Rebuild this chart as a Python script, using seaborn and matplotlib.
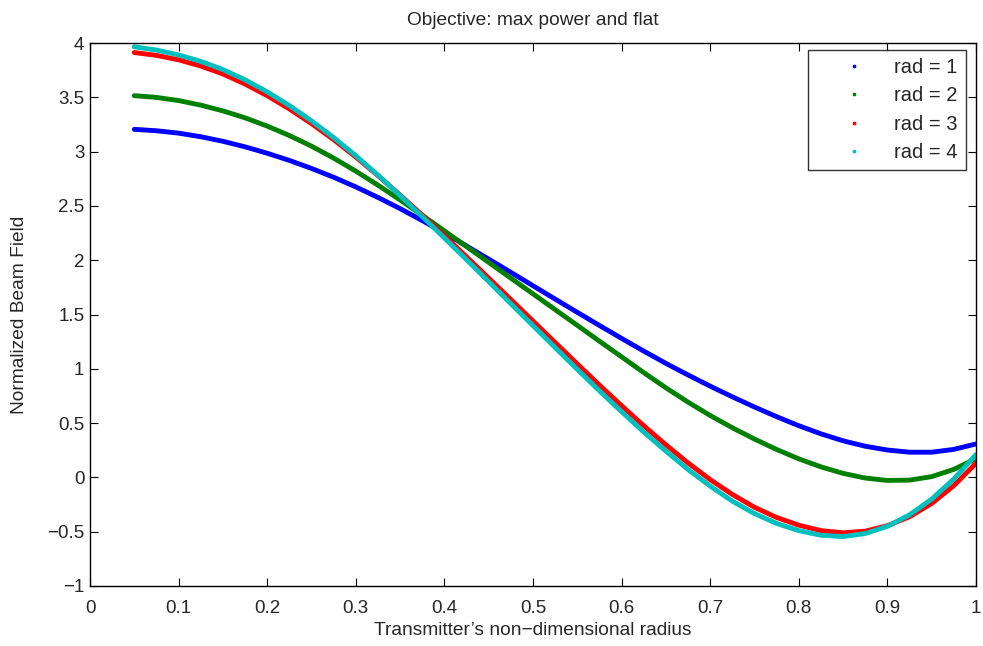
import matplotlib
matplotlib.use("Agg")
import matplotlib.pyplot as plt
import pandas as pd
import seaborn as sns

radius = [0.050, 0.075, 0.100, 0.125, 0.150, 0.175, 0.200, 0.225, 0.250, 0.275,
          0.300, 0.325, 0.350, 0.375, 0.400, 0.425, 0.450, 0.475, 0.500, 0.525,
          0.550, 0.575, 0.600, 0.625, 0.650, 0.675, 0.700, 0.725, 0.750, 0.775,
          0.800, 0.825, 0.850, 0.875, 0.900, 0.925, 0.950, 0.975, 1.000]
rad1 = [3.205, 3.192, 3.170, 3.137, 3.095, 3.044, 2.985, 2.919, 2.845, 2.764,
        2.675, 2.578, 2.475, 2.365, 2.250, 2.131, 2.010, 1.888, 1.765, 1.642,
        1.520, 1.399, 1.280, 1.163, 1.050, 0.943, 0.840, 0.742, 0.648, 0.559,
        0.476, 0.401, 0.337, 0.287, 0.252, 0.232, 0.232, 0.258, 0.308]
rad2 = [3.515, 3.499, 3.470, 3.428, 3.375, 3.311, 3.235, 3.148, 3.050, 2.940,
        2.820, 2.691, 2.555, 2.414, 2.270, 2.125, 1.980, 1.835, 1.690, 1.545,
        1.400, 1.254, 1.110, 0.965, 0.825, 0.693, 0.570, 0.457, 0.353, 0.257,
        0.171, 0.097, 0.037, -0.006, -0.028, -0.025, 0.007, 0.074, 0.173]
rad3 = [3.912, 3.886, 3.845, 3.788, 3.715, 3.622, 3.515, 3.393, 3.258, 3.110,
        2.950, 2.779, 2.600, 2.415, 2.225, 2.031, 1.835, 1.638, 1.440, 1.242,
        1.045, 0.850, 0.660, 0.476, 0.300, 0.133, -0.020, -0.157, -0.275, -0.369,
        -0.440, -0.490, -0.510, -0.495, -0.445, -0.362, -0.240, -0.076, 0.130]
rad4 = [3.965, 3.935, 3.890, 3.831, 3.755, 3.661, 3.550, 3.424, 3.283, 3.129,
        2.962, 2.783, 2.595, 2.402, 2.205, 2.005, 1.803, 1.600, 1.398, 1.195,
        0.995, 0.797, 0.605, 0.418, 0.242, 0.073, -0.080, -0.219, -0.333, -0.424,
        -0.490, -0.533, -0.545, -0.517, -0.450, -0.345, -0.200, -0.015, 0.210]
labels = ["rad = 1", "rad = 2", "rad = 3", "rad = 4"]
colors = ["#0000ff", "#008000", "#ff0000", "#00bfbf"]

xticks = [0, 0.1, 0.2, 0.3, 0.4, 0.5, 0.6, 0.7, 0.8, 0.9, 1.0]
xticklabels = ["0", "0.1", "0.2", "0.3", "0.4", "0.5", "0.6", "0.7", "0.8", "0.9", "1"]
yticks = [-1, -0.5, 0, 0.5, 1, 1.5, 2, 2.5, 3, 3.5, 4]
yticklabels = ["\u22121", "\u22120.5", "0", "0.5", "1", "1.5", "2", "2.5", "3", "3.5", "4"]

df = pd.concat(
    [pd.DataFrame({"x": radius, "y": vals, "series": lab})
     for vals, lab in zip([rad1, rad2, rad3, rad4], labels)],
    ignore_index=True,
)

sns.set_theme(style="ticks")
plt.rcParams["font.family"] = ["Liberation Sans", "DejaVu Sans"]
plt.rcParams["xtick.direction"] = "in"
plt.rcParams["ytick.direction"] = "in"

fig = plt.figure(figsize=(9.83, 6.46), dpi=100)
ax = fig.add_axes([90 / 983, 60 / 646, 886 / 983, 543 / 646])

sns.lineplot(data=df, x="x", y="y", hue="series", palette=colors,
             linewidth=3.5, ax=ax)

ax.set_xlim(0, 1)
ax.set_ylim(-1, 4)
ax.set_xticks(xticks)
ax.set_xticklabels(xticklabels)
ax.set_yticks(yticks)
ax.set_yticklabels(yticklabels)
ax.tick_params(axis="both", labelsize=13.5, length=5.5, width=0.8, color="black",
               top=True, right=True)
ax.tick_params(axis="x", pad=10)
ax.tick_params(axis="y", pad=4)
for s in ax.spines.values():
    s.set_color("black")
    s.set_linewidth(1.0)

ax.set_xlabel("Transmitter\u2019s non\u2212dimensional radius", fontsize=13.8, labelpad=4)
ax.set_ylabel("Normalized Beam Field", fontsize=13.8, labelpad=14)
ax.set_title("Objective: max power and flat", fontsize=13.8, pad=13)

leg = ax.legend(loc="upper right", bbox_to_anchor=(1 - 10 / 886, 1 - 7 / 543),
                borderaxespad=0, fontsize=14.5, frameon=True, fancybox=False,
                edgecolor="black", handlelength=3.8, handletextpad=0.1,
                borderpad=0.4, labelspacing=0.46)
leg.get_frame().set_linewidth(1.0)
for h in leg.legend_handles:
    h.set_linestyle("None")
    h.set_marker("o")
    h.set_markersize(3.5)

fig.savefig("out.png", dpi=100, facecolor="white")
